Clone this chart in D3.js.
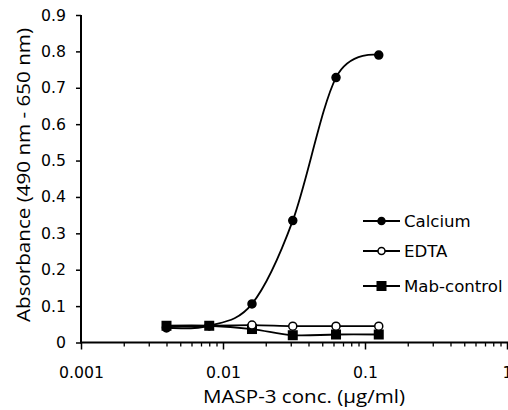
<!DOCTYPE html>
<html>
<head>
<meta charset="utf-8">
<script src="https://cdn.jsdelivr.net/npm/d3@7"></script>
<style>
  body { margin: 0; background: #fff; }
  text { font-family: "DejaVu Sans", sans-serif; fill: #000; }
  .title { font-family: "Open Sans", "Noto Sans", sans-serif; }
</style>
</head>
<body>
<div id="chart"></div>
<script>
// concentrations (ug/ml)
var conc = [0.004, 0.008, 0.016, 0.031, 0.0625, 0.125];
var calcium = [0.040, 0.046, 0.106, 0.335, 0.728, 0.790];
var edta = [0.042, 0.046, 0.048, 0.045, 0.045, 0.045];
var mabControl = [0.046, 0.046, 0.037, 0.020, 0.022, 0.022];
var seriesNames = ['Calcium', 'EDTA', 'Mab-control'];
var xTickLabels = [0.001, 0.01, 0.1, 1];
var yTickLabels = [0, 0.1, 0.2, 0.3, 0.4, 0.5, 0.6, 0.7, 0.8, 0.9];

var width = 508, height = 410;

var svg = d3.select('#chart')
	.append('svg')
	.attr('width', width)
	.attr('height', height);

var x = d3.scaleLog().domain([0.001, 1]).range([81, 507]);
var y = d3.scaleLinear().domain([0, 0.9]).range([342.5, 15]);

// minor ticks on x
var minor = [];
[0.001, 0.01, 0.1].forEach(function(d) {
	for (var k = 2; k <= 9; k++) minor.push(d * k);
});

svg.append('g')
	.attr('transform', 'translate(0,' + y(0) + ')')
	.call(d3.axisBottom(x).tickValues(minor).tickSize(4).tickFormat(''))
	.call(function(g) { g.select('.domain').remove(); })
	.selectAll('line').attr('stroke', '#000').attr('stroke-width', 1.3);

var xAxis = svg.append('g')
	.attr('transform', 'translate(0,' + y(0) + ')')
	.call(d3.axisBottom(x).tickValues(xTickLabels).tickSize(7).tickPadding(17)
		.tickFormat(function(d) { return d === 1 ? '1' : String(d); }));
xAxis.select('.domain').attr('stroke-width', 2).attr('d', 'M81,0H508');
xAxis.selectAll('line').attr('stroke-width', 1.5);
xAxis.selectAll('text').style('font-size', '15.7px').style('font-family', '"DejaVu Sans", sans-serif');

var yAxis = svg.append('g')
	.attr('transform', 'translate(81,0)')
	.call(d3.axisLeft(y).tickValues(yTickLabels).tickSize(5).tickPadding(10)
		.tickFormat(function(d) { return d === 0 ? '0' : d3.format('.1f')(d); }));
yAxis.select('.domain').attr('stroke-width', 2).attr('d', 'M0,15V343.5');
yAxis.selectAll('line').attr('stroke-width', 1.5);
yAxis.selectAll('text').style('font-size', '15.7px').style('font-family', '"DejaVu Sans", sans-serif');

svg.append('text')
	.attr('class', 'title')
	.attr('x', 203)
	.attr('y', 403)
	.attr('textLength', 202)
	.attr('lengthAdjust', 'spacingAndGlyphs')
	.style('font-size', '18px')
	.text('MASP-3 conc. (\u00b5g/ml)');

svg.append('text')
	.attr('class', 'title')
	.attr('transform', 'translate(30,175) rotate(-90)')
	.attr('text-anchor', 'middle')
	.attr('textLength', 294)
	.attr('lengthAdjust', 'spacingAndGlyphs')
	.style('font-size', '18.3px')
	.text('Absorbance (490 nm - 650 nm)');

var line = d3.line()
	.x(function(d) { return x(d[0]); })
	.y(function(d) { return y(d[1]); })
	.curve(d3.curveCardinal.tension(0));

var allSeries = [
	{ name: seriesNames[0], values: calcium, shape: 'circle', fill: '#000' },
	{ name: seriesNames[1], values: edta, shape: 'circle', fill: '#fff' },
	{ name: seriesNames[2], values: mabControl, shape: 'square', fill: '#000' }
];

function drawMarker(g, s, cx, cy, size) {
	if (s.shape === 'circle') {
		g.append('circle')
			.attr('cx', cx).attr('cy', cy).attr('r', size)
			.attr('fill', s.fill).attr('stroke', '#000').attr('stroke-width', 1.5);
	} else {
		g.append('rect')
			.attr('x', cx - size - 0.5).attr('y', cy - size - 0.5)
			.attr('width', 2 * size + 1).attr('height', 2 * size + 1)
			.attr('fill', s.fill);
	}
}

// Mab-control first, then EDTA, Calcium on top
[2, 1, 0].forEach(function(i) {
	var s = allSeries[i];
	var pts = conc.map(function(c, j) { return [c, s.values[j]]; });
	svg.append('path')
		.datum(pts)
		.attr('d', line)
		.attr('fill', 'none')
		.attr('stroke', '#000')
		.attr('stroke-width', 1.8);
	var g = svg.append('g');
	pts.forEach(function(p) {
		drawMarker(g, s, x(p[0]), y(p[1]), s.shape === 'square' ? 4.5 : 4);
	});
});

// legend
var legendY = [221, 251, 286];
allSeries.forEach(function(s, i) {
	var g = svg.append('g');
	g.append('line')
		.attr('x1', 363).attr('x2', 400)
		.attr('y1', legendY[i]).attr('y2', legendY[i])
		.attr('stroke', '#000').attr('stroke-width', 1.8);
	drawMarker(g, s, 381.5, legendY[i], s.shape === 'square' ? 4.5 : 3.5);
	g.append('text')
		.attr('x', 404)
		.attr('y', legendY[i] + 6)
		.style('font-size', '16.6px')
		.text(s.name);
});
</script>
</body>
</html>
